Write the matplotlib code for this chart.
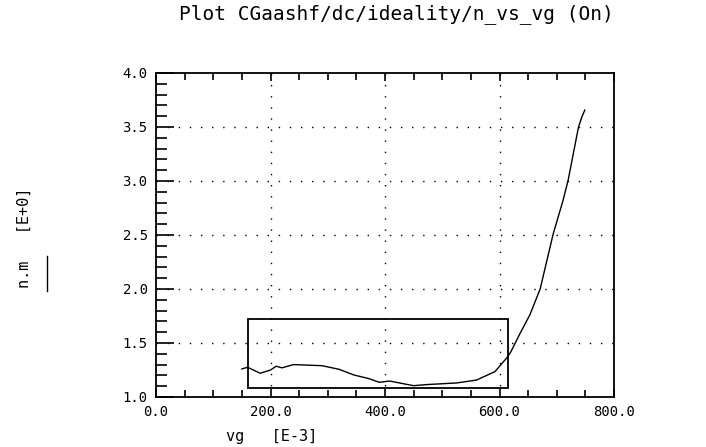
import matplotlib
matplotlib.use("Agg")
import matplotlib.pyplot as plt
from matplotlib.patches import Rectangle
from matplotlib.ticker import MultipleLocator, FixedLocator

# ---- data ----
vg = [150, 160, 182, 200, 210, 220, 240, 290, 320, 345, 372, 390, 408, 430,
      450, 473, 525, 560, 592, 614, 620, 636, 653, 671, 694, 711, 720, 738,
      744, 749]
n_m = [1.26, 1.275, 1.22, 1.25, 1.285, 1.27, 1.30, 1.29, 1.256, 1.205, 1.17,
       1.136, 1.148, 1.125, 1.105, 1.115, 1.13, 1.157, 1.235, 1.37, 1.42,
       1.59, 1.76, 2.0, 2.515, 2.82, 3.01, 3.50, 3.595, 3.657]
box_x = [161, 615]
box_y = [1.083, 1.722]
x_ticks = [0, 200, 400, 600, 800]
x_tick_labels = ["0.0", "200.0", "400.0", "600.0", "800.0"]
y_ticks = [1.0, 1.5, 2.0, 2.5, 3.0, 3.5, 4.0]
y_tick_labels = ["1.0", "1.5", "2.0", "2.5", "3.0", "3.5", "4.0"]
title = "Plot CGaashf/dc/ideality/n_vs_vg (On)"
xlabel = "vg   [E-3]"
ylabel = "n.m   [E+0]"

mono = "DejaVu Sans Mono"
fig = plt.figure(figsize=(7.06, 4.47), dpi=100)
ax = fig.add_axes([156/706, 1-397/447, (614-156)/706, (397-73)/447])

ax.plot(vg, n_m, color="black", lw=1.0)
ax.add_patch(Rectangle((box_x[0], box_y[0]), box_x[1]-box_x[0], box_y[1]-box_y[0],
                       fill=False, edgecolor="black", lw=1.3))

ax.set_xlim(0, 800)
ax.set_ylim(1.0, 4.0)

for yv in [1.5, 2.0, 2.5, 3.0, 3.5]:
    ax.axhline(yv, color="black", lw=1.0, ls=(0, (1, 7)), zorder=0)
for xv in [200, 400, 600]:
    ax.axvline(xv, color="black", lw=1.0, ls=(0, (1, 7)), zorder=0)

ax.xaxis.set_major_locator(FixedLocator(x_ticks))
ax.set_xticklabels(x_tick_labels, fontfamily=mono, fontsize=10)
ax.xaxis.set_minor_locator(MultipleLocator(50))
ax.yaxis.set_major_locator(FixedLocator(y_ticks))
ax.set_yticklabels(y_tick_labels, fontfamily=mono, fontsize=10)
ax.yaxis.set_minor_locator(MultipleLocator(0.1))

ax.tick_params(axis="y", which="major", direction="in", length=13, width=1.2,
               left=True, right=False, pad=6)
ax.tick_params(axis="y", which="minor", direction="in", length=8, width=1.2,
               left=True, right=False)
ax.tick_params(axis="x", which="major", direction="in", length=6, width=1.2,
               bottom=True, top=True, pad=6)
ax.tick_params(axis="x", which="minor", direction="in", length=5, width=1.2,
               bottom=True, top=True)

for s in ax.spines.values():
    s.set_linewidth(1.3)

fig.text(396/706, 1-14/447, title, fontfamily=mono, fontsize=14,
         ha="center", va="center")
fig.text(226/706, 1-437/447, xlabel, fontfamily=mono, fontsize=11,
         ha="left", va="center")
fig.text(24/706, 1-238/447, ylabel, fontfamily=mono, fontsize=11,
         ha="center", va="center", rotation=90)
fig.add_artist(plt.Line2D([47/706, 47/706], [1-256/447, 1-291/447],
                          color="black", lw=1.0))

fig.savefig("out.png", dpi=100)
